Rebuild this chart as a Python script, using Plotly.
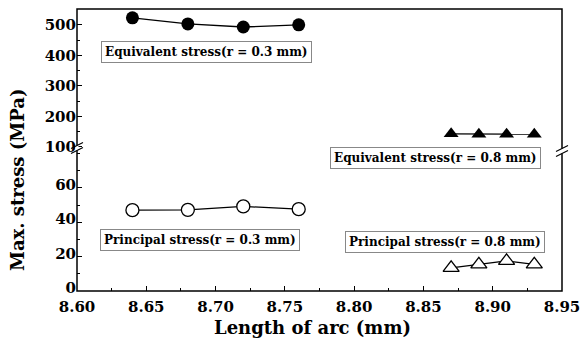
import plotly.graph_objects as go

# ---- data ----
x_r03 = [8.64, 8.68, 8.72, 8.76]
x_r08 = [8.87, 8.89, 8.91, 8.93]
eq_r03 = [523, 503, 493, 500]
eq_r08 = [143, 142, 142, 142]
pr_r03 = [47.0, 47.2, 49.2, 47.6]
pr_r08 = [13.5, 15.5, 17.5, 15.5]

x_ticks = [8.60, 8.65, 8.70, 8.75, 8.80, 8.85, 8.90, 8.95]
low_ticks = [0, 20, 40, 60]
high_ticks = [100, 200, 300, 400, 500]

FONT = "DejaVu Serif"
W, H = 584, 340
L, R, T, B = 77, 22, 9, 49
PW, PH = W - L - R, H - T - B

fig = go.Figure()
line = dict(color="black", width=1.3)
fig.add_trace(go.Scatter(x=x_r03, y=eq_r03, yaxis="y2", mode="lines+markers", line=line,
                         marker=dict(symbol="circle", size=13, color="black")))
fig.add_trace(go.Scatter(x=x_r08, y=eq_r08, yaxis="y2", mode="lines+markers", line=line,
                         marker=dict(symbol="triangle-up", size=13, color="black")))
fig.add_trace(go.Scatter(x=x_r03, y=pr_r03, yaxis="y", mode="lines+markers", line=line,
                         marker=dict(symbol="circle", size=13, color="white", line=dict(color="black", width=1.3))))
fig.add_trace(go.Scatter(x=x_r08, y=pr_r08, yaxis="y", mode="lines+markers", line=line,
                         marker=dict(symbol="triangle-up", size=14, color="white", line=dict(color="black", width=1.3))))

tickfont = dict(family=FONT, size=15, color="black", weight="bold")
axis_common = dict(showgrid=False, zeroline=False, showline=False, ticks="inside", ticklen=5,
                   tickcolor="black", tickwidth=1.2, tickfont=tickfont, automargin=False)

def px2paper(px, py):
    return (px - L) / PW, (H - B - py) / PH

shapes = [dict(type="rect", xref="paper", yref="paper", x0=0, x1=1, y0=0, y1=1,
               line=dict(color="black", width=1.5))]
# axis break marks
for side, ybreak_px in ((0, 148), (1, 151)):
    xb = side
    yb = (H - B - ybreak_px) / PH
    dx, dy = 6 / PW, 3 / PH
    gap = 2.5 / PH
    shapes.append(dict(type="line", xref="paper", yref="paper", x0=xb, x1=xb,
                       y0=yb - gap, y1=yb + gap, line=dict(color="white", width=3)))
    for off in (-gap, gap):
        shapes.append(dict(type="line", xref="paper", yref="paper",
                           x0=xb - dx, x1=xb + dx, y0=yb + off - dy, y1=yb + off + dy,
                           line=dict(color="black", width=1.2)))

annfont = dict(family=FONT, size=12, color="black", weight="bold")
def box(text, cx, cy):
    xp, yp = px2paper(cx, cy)
    return dict(text=text, xref="paper", yref="paper", x=xp, y=yp,
                showarrow=False, font=annfont, bgcolor="white", bordercolor="#888888",
                borderwidth=1, borderpad=3, xanchor="center", yanchor="middle")

titlefont = dict(family=FONT, size=18, color="black", weight="bold")
annotations = [
    box("Equivalent stress(r = 0.3 mm)", 206, 52),
    box("Equivalent stress(r = 0.8 mm)", 435, 158),
    box("Principal stress(r = 0.3 mm)", 200, 240),
    box("Principal stress(r = 0.8 mm)", 445, 242),
    dict(text="Max. stress (MPa)", xref="paper", yref="paper",
         x=px2paper(17, 0)[0], y=px2paper(0, 180)[1], textangle=-90, showarrow=False,
         font=titlefont, xanchor="center", yanchor="middle"),
    dict(text="Length of arc (mm)", xref="paper", yref="paper",
         x=px2paper(312, 0)[0], y=px2paper(0, 327)[1], showarrow=False,
         font=titlefont, xanchor="center", yanchor="middle"),
]

fig.update_layout(
    width=W, height=H, margin=dict(l=L, r=R, t=T, b=B),
    paper_bgcolor="white", plot_bgcolor="white", showlegend=False,
    xaxis=dict(range=[8.60, 8.95], tickvals=x_ticks,
               ticktext=["%.2f" % v for v in x_ticks], ticklabelstandoff=5,
               minor=dict(ticks="inside", ticklen=3, dtick=0.025, tickcolor="black"),
               **axis_common),
    yaxis=dict(domain=[0, 0.5], range=[0, 82], tickvals=low_ticks, ticklabelshift=-3,
               minor=dict(ticks="inside", ticklen=3, dtick=10, tickcolor="black"),
               **axis_common),
    yaxis2=dict(domain=[0.5, 1], range=[90, 552], tickvals=high_ticks,
                minor=dict(ticks="inside", ticklen=3, dtick=50, tickcolor="black"),
                **axis_common),
    shapes=shapes, annotations=annotations,
)
fig.write_html("out.html", config={"displayModeBar": False},
               post_script="document.body.style.margin='0px';document.body.style.overflow='hidden';")
